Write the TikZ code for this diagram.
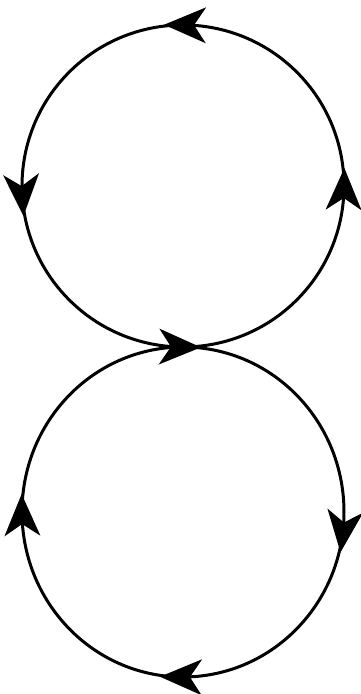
\documentclass[tikz,border=0pt]{standalone}
\usetikzlibrary{arrows.meta,decorations.markings}
\tikzset{looptip/.tip={Stealth[length=42pt,width=36pt,inset=12pt,line width=0pt]}}
\begin{document}
\begin{tikzpicture}[x=1pt,y=1pt,
  loopline/.style={line width=3pt,black},
  marktop/.style={postaction={decorate,decoration={markings,
     mark=at position 0.123 with {\arrow[xshift=21pt]{looptip}},
     mark=at position 0.384 with {\arrow[xshift=21pt]{looptip}},
     mark=at position 0.622 with {\arrow[xshift=21pt]{looptip}},
     mark=at position 0.872 with {\arrow[xshift=21pt]{looptip}}}}},
  markbot/.style={postaction={decorate,decoration={markings,
     mark=at position 0.145 with {\arrow[xshift=21pt]{looptip}},
     mark=at position 0.378 with {\arrow[xshift=21pt]{looptip}},
     mark=at position 0.623 with {\arrow[xshift=21pt]{looptip}}}}}
]
\useasboundingbox (0,0) rectangle (361,694);
\coordinate (ctop) at (183,508);
\coordinate (cbot) at (183,182);
% top loop, counterclockwise
\draw[loopline,marktop] (ctop) ++(45:161) arc[start angle=45,end angle=405,radius=161];
% bottom loop, clockwise
\draw[loopline,markbot] (cbot) ++(45:161 and 165) arc[start angle=45,end angle=-315,x radius=161,y radius=165];
\end{tikzpicture}
\end{document}
